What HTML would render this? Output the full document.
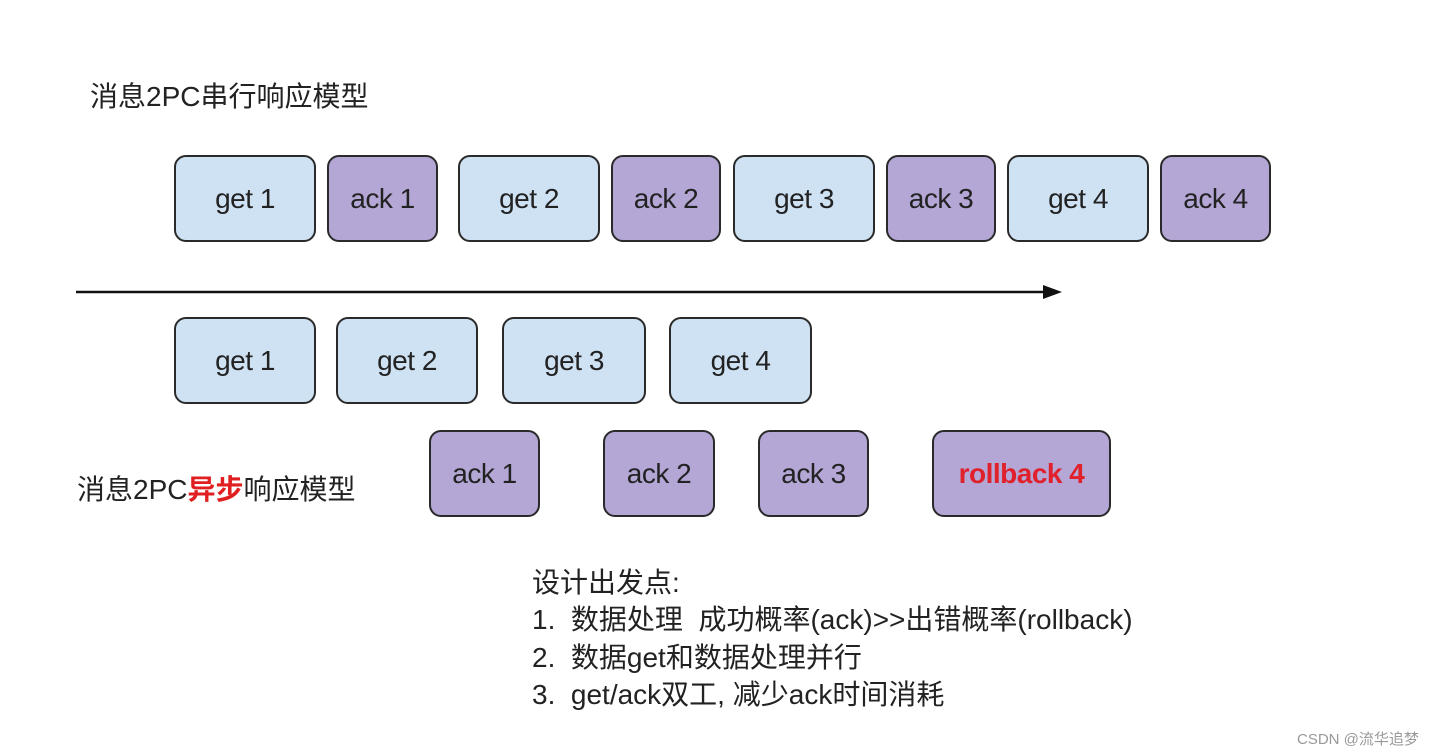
<!DOCTYPE html>
<html><head><meta charset="utf-8"><style>
body{margin:0;width:1448px;height:756px;background:#fff;position:relative;overflow:hidden;font-family:"Liberation Sans","Noto Sans CJK SC",sans-serif;color:#222}
.b{position:absolute;box-sizing:border-box;border:2px solid #2a2a2a;border-radius:12px;display:flex;align-items:center;justify-content:center;font-size:28px;letter-spacing:-0.5px;height:87px}
.g{background:#cfe2f3}.a{background:#b4a7d6}
.t{position:absolute;font-size:28px;white-space:nowrap;letter-spacing:0}
</style></head><body>
<div class="t" style="left:90px;top:75px">消息2PC串行响应模型</div>
<div class="b g" style="left:174px;top:155px;width:142px">get 1</div>
<div class="b a" style="left:327px;top:155px;width:111px">ack 1</div>
<div class="b g" style="left:458px;top:155px;width:142px">get 2</div>
<div class="b a" style="left:611px;top:155px;width:110px">ack 2</div>
<div class="b g" style="left:733px;top:155px;width:142px">get 3</div>
<div class="b a" style="left:886px;top:155px;width:110px">ack 3</div>
<div class="b g" style="left:1007px;top:155px;width:142px">get 4</div>
<div class="b a" style="left:1160px;top:155px;width:111px">ack 4</div>
<svg style="position:absolute;left:0;top:0" width="1448" height="756"><line x1="76" y1="292" x2="1045" y2="292" stroke="#111" stroke-width="2.5"/><polygon points="1062,292 1043,285 1043,299" fill="#111"/></svg>
<div class="b g" style="left:174px;top:317px;width:142px">get 1</div>
<div class="b g" style="left:336px;top:317px;width:142px">get 2</div>
<div class="b g" style="left:502px;top:317px;width:144px">get 3</div>
<div class="b g" style="left:669px;top:317px;width:143px">get 4</div>
<div class="t" style="left:77px;top:468px">消息2PC<b style="color:#e02020">异步</b>响应模型</div>
<div class="b a" style="left:429px;top:430px;width:111px">ack 1</div>
<div class="b a" style="left:603px;top:430px;width:112px">ack 2</div>
<div class="b a" style="left:758px;top:430px;width:111px">ack 3</div>
<div class="b a" style="left:932px;top:430px;width:179px;color:#e0202a;font-weight:bold">rollback 4</div>
<div class="t" style="left:532px;top:561px">设计出发点:</div>
<div class="t" style="left:532px;top:598px">1.&nbsp; 数据处理&nbsp; 成功概率(ack)&gt;&gt;出错概率(rollback)</div>
<div class="t" style="left:532px;top:636px">2.&nbsp; 数据get和数据处理并行</div>
<div class="t" style="left:532px;top:673px">3.&nbsp; get/ack双工, 减少ack时间消耗</div>
<div class="t" style="left:1297px;top:728px;font-size:15px;color:#999;letter-spacing:0">CSDN @流华追梦</div>
</body></html>
